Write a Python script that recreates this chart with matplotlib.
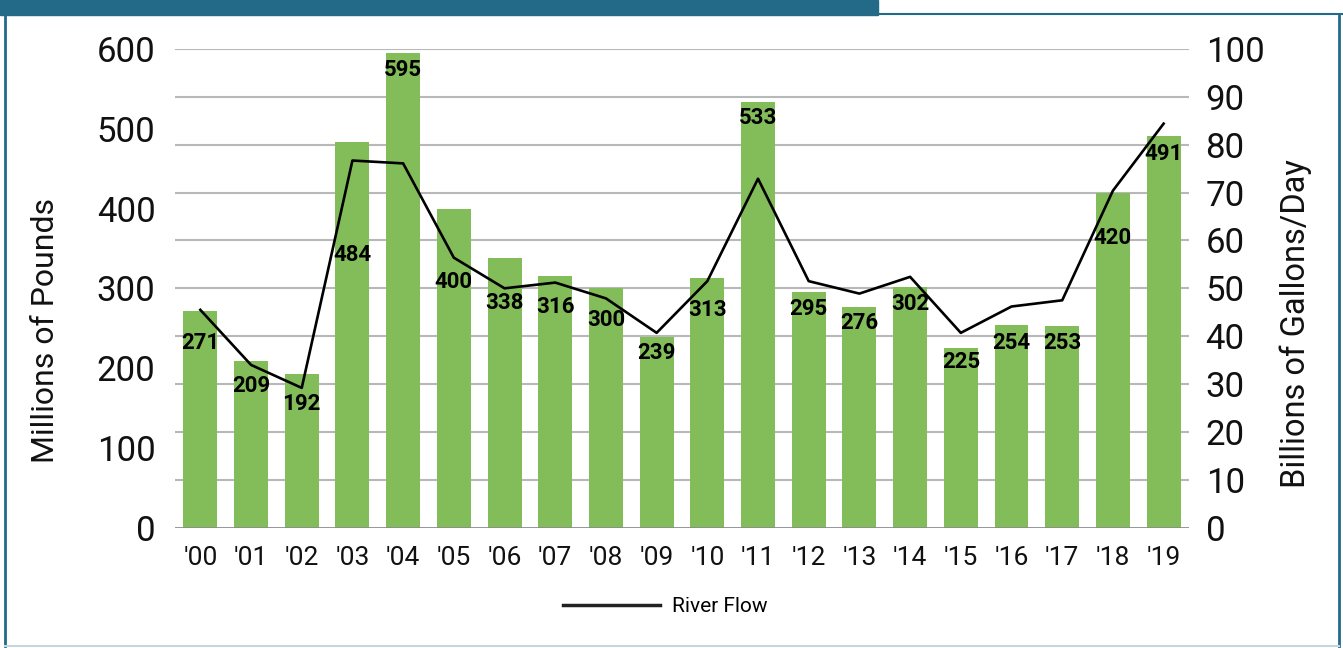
import matplotlib
matplotlib.use("Agg")
import matplotlib.pyplot as plt
from matplotlib.lines import Line2D
from matplotlib.patches import Rectangle

# CONSTANTS
BAR_COLOR = "#83bd59"
GRID_COLOR = "#b8b8b8"
FRAME_COLOR = "#236a89"
TEXT_COLOR = "#111111"
NARROW = ["Liberation Sans Narrow", "Roboto", "DejaVu Sans"]

# DATA
years = ["'00", "'01", "'02", "'03", "'04", "'05", "'06", "'07", "'08", "'09",
         "'10", "'11", "'12", "'13", "'14", "'15", "'16", "'17", "'18", "'19"]
pounds = [271, 209, 192, 484, 595, 400, 338, 316, 300, 239,
          313, 533, 295, 276, 302, 225, 254, 253, 420, 491]
river_flow = [45.5, 34.0, 29.2, 76.7, 76.1, 56.4, 50.0, 51.2, 47.9, 40.7,
              51.5, 72.9, 51.5, 48.9, 52.4, 40.7, 46.2, 47.5, 70.4, 84.4]

# label drop below the bar top, in pixels (moved by hand in the original to dodge the line)
label_drop = [32, 25, 30, 113, 17, 73, 45, 31, 32, 16,
              32, 16, 17, 16, 17, 14, 18, 17, 45, 18]

# FIGURE
fig = plt.figure(figsize=(13.43, 6.48), dpi=100)
fig.set_facecolor("white")
ax = fig.add_axes([0.1303, 0.1857, 0.755, 0.7387])
ax2 = ax.twinx()

x = range(len(years))

# gridlines: ten steps on the right scale = 60 on the left one
ax.set_axisbelow(True)
for g in range(60, 601, 60):
    ax.axhline(g, color=GRID_COLOR, linewidth=1.5, zorder=0)
ax.bar(x, pounds, width=0.67, color=BAR_COLOR, zorder=2)
ax.axhline(0, color="#8c8c8c", linewidth=2, zorder=5)

ax2.plot(x, river_flow, color="black", linewidth=1.9, zorder=3, label="River Flow")

# bar value labels, drawn on top of the line
for i, v in enumerate(pounds):
    ax2.annotate(str(v), (i, v), xycoords=ax.transData, xytext=(0, -label_drop[i]),
                 textcoords="offset pixels", ha="center", va="center", fontsize=16,
                 fontweight="bold", family=NARROW, color="black", zorder=4)

# axes ranges and ticks
ax.set_xlim(-0.5, 19.5)
ax.set_ylim(0, 600)
ax2.set_ylim(0, 100)
ax.set_yticks(range(0, 601, 100))
ax2.set_yticks(range(0, 101, 10))
ax.set_xticks(list(x))
ax.set_xticklabels(years)

for a in (ax, ax2):
    for s in a.spines.values():
        s.set_visible(False)

ax.tick_params(axis="y", length=0, pad=14, labelsize=25, labelcolor=TEXT_COLOR)
ax.tick_params(axis="x", length=0, pad=13, labelsize=19, labelcolor=TEXT_COLOR)
ax2.tick_params(axis="y", length=0, pad=12, labelsize=25, labelcolor=TEXT_COLOR)
for lab in ax.get_yticklabels() + ax.get_xticklabels() + ax2.get_yticklabels():
    lab.set_family(NARROW)

# axis titles
fig.text(45 / 1343, 0.4907, "Millions of Pounds", rotation=90, ha="center", va="center",
         fontsize=23, family=NARROW, color=TEXT_COLOR)
fig.text(1296 / 1343, 0.5008, "Billions of Gallons/Day", rotation=90, ha="center", va="center",
         fontsize=23.5, family=NARROW, color=TEXT_COLOR)

# legend
fig.legend(handles=[Line2D([], [], color="#222222", linewidth=2.5)], labels=["River Flow"],
           loc="center", bbox_to_anchor=(665 / 1343, 1 - 607 / 648), frameon=False,
           handlelength=4.65, handletextpad=0.57, prop={"family": NARROW, "size": 15})

# frame around the graphic
fig.add_artist(Rectangle((0, 1 - 15 / 648), 878 / 1343, 15 / 648, transform=fig.transFigure,
                         color=FRAME_COLOR, zorder=10))
fig.add_artist(Line2D([878 / 1343, 1], [1 - 14 / 648, 1 - 14 / 648], transform=fig.transFigure,
                      color=FRAME_COLOR, linewidth=1.5))
fig.add_artist(Line2D([5 / 1343, 5 / 1343], [2 / 648, 1 - 14 / 648], transform=fig.transFigure,
                      color=FRAME_COLOR, linewidth=2))
fig.add_artist(Line2D([1339 / 1343, 1339 / 1343], [2 / 648, 1 - 14 / 648], transform=fig.transFigure,
                      color=FRAME_COLOR, linewidth=2))
fig.add_artist(Line2D([5 / 1343, 1339 / 1343], [2 / 648, 2 / 648], transform=fig.transFigure,
                      color="#c6d6de", linewidth=1.5))

fig.savefig("out.png", dpi=100)
